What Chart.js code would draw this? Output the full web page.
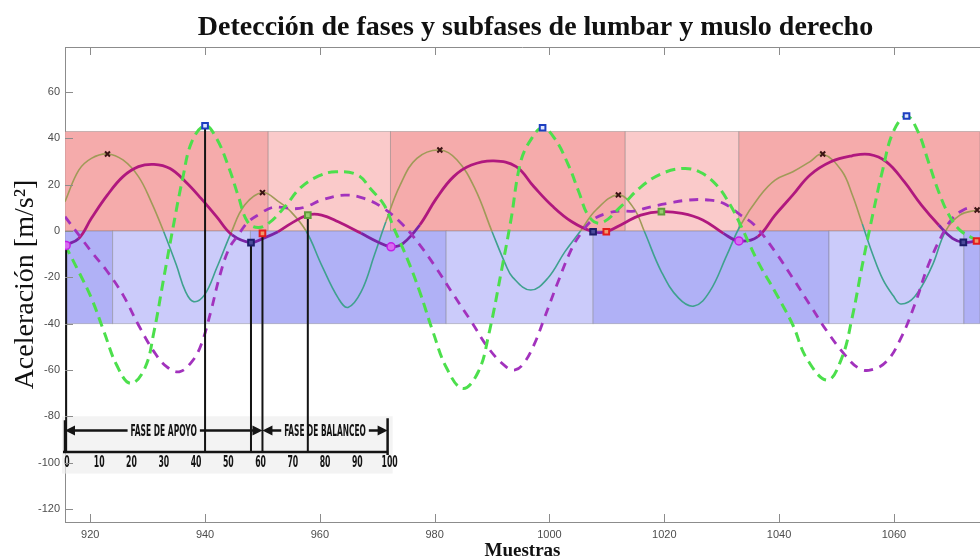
<!DOCTYPE html>
<html>
<head>
<meta charset="utf-8">
<script src="https://cdn.jsdelivr.net/npm/chart.js@4"></script>
<style>
  html, body { margin: 0; padding: 0; background: #ffffff; }
  #wrap { width: 980px; height: 560px; position: relative; }
</style>
</head>
<body>
<div id="wrap"><canvas id="chart"></canvas></div>
<script>
// ---------- series (sample index, acceleration m/s^2) ----------
const thinX = [915.6, 918.0, 920.2, 923.0, 925.7, 928.4, 930.6, 932.8, 935.0, 936.6, 938.0, 939.9, 942.0, 944.5, 946.9, 950.0, 952.8, 954.7, 957.6, 960.3, 963.2, 964.9, 967.2, 969.5, 971.5, 974.0, 976.9, 980.9, 983.9, 987.0, 990.0, 992.4, 993.6, 996.7, 999.7, 1002.7, 1005.4, 1008.1, 1012.0, 1014.7, 1016.5, 1019.5, 1022.5, 1025.2, 1027.9, 1030.9, 1033.3, 1036.6, 1039.3, 1042.4, 1045.4, 1047.6, 1050.9, 1052.7, 1054.5, 1056.3, 1058.1, 1059.9, 1061.2, 1063.6, 1066.6, 1069.0, 1071.5, 1074.5];
const thinY = [12.7, 26.3, 31.4, 33.3, 30.7, 23.5, 12.7, -0.3, -14.7, -26.2, -30.5, -27.6, -16.1, -1.0, 11.2, 16.6, 12.7, 9.0, 0.0, -14.7, -29.0, -33.0, -26.2, -10.4, 4.0, 19.9, 31.4, 35.0, 30.7, 18.4, -0.3, -14.7, -20.0, -25.5, -20.4, -8.9, 0.0, 9.1, 15.6, 9.8, 0.0, -17.6, -29.0, -32.4, -26.2, -10.4, 2.6, 15.0, 22.0, 25.6, 30.0, 33.3, 26.0, 16.0, 3.0, -10.0, -21.0, -28.0, -31.5, -28.4, -15.4, 0.0, 6.9, 9.1];

const solidX = [915.6, 918.0, 920.2, 923.0, 925.7, 928.4, 931.1, 933.9, 936.6, 939.3, 942.0, 944.7, 948.0, 950.1, 952.7, 955.0, 957.9, 960.3, 963.2, 967.2, 970.0, 972.4, 974.5, 977.4, 980.3, 983.3, 986.4, 990.3, 994.2, 997.3, 1000.5, 1003.9, 1007.6, 1009.9, 1012.9, 1015.9, 1019.5, 1023.1, 1026.7, 1030.3, 1033.0, 1036.3, 1039.3, 1042.4, 1045.4, 1049.0, 1052.7, 1055.7, 1058.7, 1061.8, 1064.8, 1067.8, 1070.2, 1072.1, 1074.4];
const solidY = [-6.2, -3.2, 5.5, 15.6, 23.5, 27.8, 28.8, 27.0, 21.3, 14.1, 6.2, -1.7, -5.0, -3.2, -0.3, 3.3, 6.9, 6.9, 4.0, -1.0, -4.6, -6.8, -5.3, 2.6, 14.1, 23.5, 28.5, 30.3, 27.8, 19.1, 10.8, 4.0, -0.3, -0.3, 3.3, 6.9, 8.4, 7.6, 4.8, -1.0, -4.3, -2.4, 6.9, 15.6, 24.2, 29.9, 32.5, 33.1, 29.9, 21.3, 11.2, 2.6, -3.2, -4.9, -4.3];

const greenDashX = [915.6, 918.0, 920.2, 922.4, 924.6, 927.0, 929.5, 931.1, 932.8, 934.4, 936.1, 937.7, 940.0, 942.0, 944.2, 945.8, 947.4, 949.2, 951.1, 953.9, 956.6, 959.8, 962.8, 966.6, 968.9, 971.2, 972.9, 975.2, 977.4, 979.7, 982.1, 984.9, 987.6, 989.4, 991.8, 993.3, 995.0, 996.9, 998.8, 1000.9, 1003.3, 1005.1, 1006.9, 1009.0, 1012.6, 1015.9, 1019.3, 1023.1, 1026.1, 1029.1, 1031.5, 1033.3, 1036.3, 1039.3, 1042.4, 1044.8, 1048.4, 1050.9, 1052.7, 1054.5, 1056.3, 1058.1, 1059.9, 1062.2, 1064.2, 1066.0, 1067.8, 1069.6, 1071.5, 1074.4];
const greenDashY = [-6.0, -17.6, -29.0, -43.5, -57.9, -65.8, -59.3, -43.5, -20.4, 1.2, 22.7, 38.6, 45.5, 40.0, 27.0, 15.0, 4.0, 1.5, 3.4, 10.5, 18.6, 23.8, 25.6, 24.2, 18.0, 11.2, 1.2, -11.8, -26.2, -43.5, -59.3, -68.0, -60.8, -44.9, -15.0, 5.0, 30.0, 40.0, 44.6, 40.0, 28.5, 17.0, 6.2, 3.5, 11.0, 19.0, 24.5, 27.0, 25.6, 19.9, 11.2, 2.5, -13.2, -26.2, -40.6, -55.0, -64.4, -55.0, -37.7, -14.7, 6.9, 27.0, 42.9, 49.7, 42.9, 30.0, 17.0, 6.9, 0.4, -4.0];

const purpleDashX = [915.6, 918.0, 920.2, 923.0, 925.7, 928.4, 931.1, 933.3, 935.5, 937.7, 939.3, 941.0, 942.6, 944.2, 945.8, 947.4, 949.6, 951.7, 953.5, 955.5, 957.6, 960.3, 964.3, 967.7, 971.1, 974.5, 977.4, 980.3, 983.3, 986.4, 989.4, 992.4, 994.0, 995.5, 997.3, 999.1, 1001.5, 1003.9, 1005.7, 1007.5, 1009.9, 1012.3, 1014.7, 1017.7, 1020.7, 1024.3, 1027.6, 1030.3, 1033.3, 1035.7, 1039.3, 1042.4, 1045.4, 1048.4, 1051.5, 1053.9, 1056.0, 1058.7, 1061.2, 1063.6, 1066.0, 1068.4, 1070.2, 1072.1, 1073.9];
const purpleDashY = [6.2, -1.7, -8.9, -17.6, -27.6, -40.6, -52.1, -58.6, -60.8, -56.4, -49.2, -34.8, -19.0, -7.5, -1.7, 3.7, 7.5, 10.2, 10.2, 9.6, 10.5, 13.4, 15.5, 14.1, 9.8, 2.6, -6.0, -16.1, -27.6, -39.2, -50.7, -58.6, -60.0, -57.2, -49.2, -37.7, -21.9, -7.5, -0.3, 4.8, 7.6, 8.6, 8.6, 10.5, 12.0, 13.4, 13.4, 12.0, 6.9, 2.6, -8.9, -20.4, -32.0, -43.5, -53.6, -59.3, -60.0, -56.4, -46.4, -32.0, -14.7, -1.7, 5.5, 9.1, 10.5];

// ---------- detected events ----------
const peakX = [923.0, 950.0, 980.9, 1012.0, 1047.6, 1074.5];
const peakY = [33.3, 16.6, 35.0, 15.6, 33.3, 9.1];
const maxDashX = [940.0, 998.8, 1062.2];
const maxDashY = [45.5, 44.6, 49.7];
const minSolidX = [948.0, 1007.6, 1072.1];
const minSolidY = [-5.0, -0.3, -4.9];
const toeOffX = [950.0, 1009.9, 1074.4];
const toeOffY = [-1.0, -0.3, -4.3];
const midSwingX = [957.9, 1019.5];
const midSwingY = [6.9, 8.4];
const contactX = [915.8, 972.4, 1033.0];
const contactY = [-6.2, -6.8, -4.3];

// ---------- phase bands ----------
const phaseEdges = [915.6, 951.0, 972.3, 1013.2, 1033.0, 1075.0];
const subphaseEdges = [915.6, 923.9, 947.9, 982.0, 1007.6, 1048.7, 1072.2, 1075.0];
const phaseTop = 43;
const subphaseBottom = -40;

// ---------- gait cycle scale ----------
const cycleStart = 915.6, cycleToeOff = 950.0, cycleEnd = 971.8;
const cyclePctLabels = ['0', '10', '20', '30', '40', '50', '60', '70', '80', '90', '100'];
const phaseNames = ['FASE DE APOYO', 'FASE DE BALANCEO'];
const stemBase = -95.5;

// ---------- axes ----------
const xTickValues = [920, 940, 960, 980, 1000, 1020, 1040, 1060];
const yTickValues = [-120, -100, -80, -60, -40, -20, 0, 20, 40, 60];
const xRange = [915.6, 1075.0];
const yRange = [-125.7, 79.5];

const xy = (xs, ys) => xs.map((v, i) => ({ x: v, y: ys[i] }));

// vertical stems from the first cycle's events down to the cycle baseline
const stemEvents = [[contactX[0], contactY[0]], [maxDashX[0], maxDashY[0]], [minSolidX[0], minSolidY[0]], [toeOffX[0], toeOffY[0]], [midSwingX[0], midSwingY[0]]];
const stemData = [];
stemEvents.forEach(([sx, sy]) => { stemData.push({ x: sx, y: sy }, { x: sx, y: stemBase }, { x: sx, y: null }); });

const bySign = (pos, neg) => c => ((c.p0.parsed.y + c.p1.parsed.y) / 2 >= 0 ? pos : neg);

// background bands, gait cycle strip, box frame and inward ticks
const underlayPlugin = {
  id: 'underlay',
  afterLayout(chart) {
    // the axes box runs past the right edge of the canvas; centre the title over it
    if (chart.titleBlock) chart.titleBlock.right += 26;
  },
  beforeDatasetsDraw(chart) {
    const { ctx, chartArea: a, scales: { x, y } } = chart;
    ctx.save();
    ctx.beginPath();
    ctx.rect(a.left, a.top, a.width, a.height);
    ctx.clip();
    const row = (edges, fills, v0, v1) => {
      const yA = y.getPixelForValue(v1), yB = y.getPixelForValue(v0);
      for (let i = 0; i < edges.length - 1; i++) {
        const xA = x.getPixelForValue(edges[i]), xB = x.getPixelForValue(edges[i + 1]);
        ctx.fillStyle = fills[i % 2];
        ctx.fillRect(xA, yA, xB - xA, yB - yA);
        ctx.strokeStyle = 'rgba(110,110,110,0.35)';
        ctx.lineWidth = 1;
        ctx.strokeRect(xA, yA, xB - xA, yB - yA);
      }
    };
    row(phaseEdges, ['#f5abab', '#facaca'], 0, phaseTop);
    row(subphaseEdges, ['#b0b1f6', '#cbcbfa'], subphaseBottom, 0);
    ctx.restore();

    // gait cycle strip
    const x0 = x.getPixelForValue(cycleStart), xt = x.getPixelForValue(cycleToeOff), x1 = x.getPixelForValue(cycleEnd);
    const yTop = y.getPixelForValue(-80), yArrow = y.getPixelForValue(-86.2), yBase = y.getPixelForValue(stemBase);
    const yNum = y.getPixelForValue(-100.2), yBot = y.getPixelForValue(-104.8);
    ctx.save();
    ctx.fillStyle = 'rgba(236,236,236,0.65)';
    ctx.fillRect(x0 - 3, yTop, x1 - x0 + 8, yBot - yTop);
    ctx.strokeStyle = '#141414';
    ctx.fillStyle = '#141414';
    ctx.lineWidth = 2.5;
    ctx.beginPath();
    ctx.moveTo(x0 - 2, yBase); ctx.lineTo(x1 + 1, yBase);
    ctx.moveTo(x0, yTop + 4); ctx.lineTo(x0, yBase);
    ctx.moveTo(x1, yTop + 2); ctx.lineTo(x1, yBase + 3);
    ctx.stroke();

    const head = (px, dir) => {
      ctx.beginPath();
      ctx.moveTo(px, yArrow);
      ctx.lineTo(px - dir * 10, yArrow - 5);
      ctx.lineTo(px - dir * 10, yArrow + 5);
      ctx.closePath();
      ctx.fill();
    };
    const arrow = (a0, a1, label) => {
      ctx.font = 'bold 16px "DejaVu Sans Condensed", "DejaVu Sans", sans-serif';
      ctx.textAlign = 'center';
      ctx.textBaseline = 'middle';
      const w = label.length * 5.1;
      const mid = (a0 + a1) / 2;
      ctx.fillText(label, mid, yArrow + 1, w);
      ctx.lineWidth = 2.5;
      ctx.beginPath();
      ctx.moveTo(a0 + 4, yArrow); ctx.lineTo(mid - w / 2 - 3, yArrow);
      ctx.moveTo(mid + w / 2 + 3, yArrow); ctx.lineTo(a1 - 4, yArrow);
      ctx.stroke();
      head(a0, -1);
      head(a1, 1);
    };
    arrow(x0, xt, phaseNames[0]);
    arrow(xt, x1, phaseNames[1]);

    ctx.font = 'bold 16px "DejaVu Sans Condensed", "DejaVu Sans", sans-serif';
    ctx.textAlign = 'center';
    ctx.textBaseline = 'middle';
    cyclePctLabels.forEach((lab, i) => {
      const px = x0 + (x1 - x0) * (i / (cyclePctLabels.length - 1));
      ctx.fillText(lab, px + 2, yNum, lab.length * 5.4);
    });
    ctx.restore();
  },
  afterDatasetsDraw(chart) {
    const { ctx, chartArea: a, scales: { x, y } } = chart;
    ctx.save();
    ctx.strokeStyle = '#8c8c8c';
    ctx.lineWidth = 1;
    ctx.beginPath();
    ctx.moveTo(a.left, a.top + 0.5); ctx.lineTo(a.right, a.top + 0.5);
    x.ticks.forEach(t => {
      const px = Math.round(x.getPixelForValue(t.value)) + 0.5;
      ctx.moveTo(px, a.bottom); ctx.lineTo(px, a.bottom - 8);
      ctx.moveTo(px, a.top); ctx.lineTo(px, a.top + 8);
    });
    y.ticks.forEach(t => {
      const py = Math.round(y.getPixelForValue(t.value)) + 0.5;
      ctx.moveTo(a.left, py); ctx.lineTo(a.left + 8, py);
    });
    ctx.stroke();
    ctx.restore();
  }
};

const markerSet = (label, xs, ys, style, radius, border, fill, bw) => ({
  label, data: xy(xs, ys), showLine: false, order: 1,
  pointStyle: style, pointRadius: radius, pointBorderColor: border,
  pointBackgroundColor: fill, pointBorderWidth: bw, borderColor: border, backgroundColor: fill
});

new Chart(document.getElementById('chart'), {
  type: 'line',
  data: {
    datasets: [
      { label: 'Lumbar (fina)', data: xy(thinX, thinY), borderColor: '#a09a58', borderWidth: 1.6,
        segment: { borderColor: bySign('#a09a58', '#3fa18f') }, pointRadius: 0, tension: 0.4, order: 6 },
      { label: 'Lumbar (gruesa)', data: xy(solidX, solidY), borderColor: '#b0187e', borderWidth: 2.8,
        segment: { borderColor: bySign('#b0187e', '#7a24a6') }, pointRadius: 0, tension: 0.4, order: 5 },
      { label: 'Muslo (morado)', data: xy(purpleDashX, purpleDashY), borderColor: '#a232bd', borderWidth: 2.8,
        borderDash: [9, 7], pointRadius: 0, tension: 0.4, order: 4 },
      { label: 'Muslo (verde)', data: xy(greenDashX, greenDashY), borderColor: '#4cdf4c', borderWidth: 3,
        borderDash: [10, 6], pointRadius: 0, tension: 0.4, order: 3 },
      { label: 'Eventos', data: stemData, borderColor: '#141414', borderWidth: 2, pointRadius: 0,
        tension: 0, spanGaps: false, order: 2 },
      markerSet('Picos', peakX, peakY, 'crossRot', 3.5, '#3b1414', '#3b1414', 2),
      markerSet('Máximos', maxDashX, maxDashY, 'rect', 4, '#1c3fc0', '#dfe6ff', 2),
      markerSet('Mínimos', minSolidX, minSolidY, 'rect', 4, '#1d1d6b', '#4b4b9a', 2),
      markerSet('Despegue', toeOffX, toeOffY, 'rect', 4, '#e31c1c', '#f19a6a', 2),
      markerSet('Balanceo medio', midSwingX, midSwingY, 'rect', 4, '#5f9f3a', '#9acc70', 2),
      markerSet('Contacto', contactX, contactY, 'circle', 4, '#c21fe6', '#d76cf0', 1.5)
    ]
  },
  options: {
    responsive: true,
    maintainAspectRatio: false,
    animation: false,
    layout: { padding: 0, autoPadding: false },
    plugins: {
      legend: { display: false },
      tooltip: { enabled: false },
      title: {
        display: true, fullSize: false,
        text: 'Detección de fases y subfases de lumbar y muslo derecho',
        color: '#111111',
        font: { family: '"Liberation Serif", "DejaVu Serif", serif', size: 28, weight: 'bold', lineHeight: 1.2 },
        padding: { top: 11, bottom: 2.4 }
      }
    },
    scales: {
      x: {
        type: 'linear', min: xRange[0], max: xRange[1],
        afterBuildTicks: s => { s.ticks = xTickValues.map(v => ({ value: v })); },
        afterFit: s => { s.height = 38; },
        grid: { display: false, drawTicks: false },
        border: { display: true, color: '#8c8c8c', width: 1 },
        ticks: { color: '#4d4d4d', padding: 6, callback: v => String(v),
          font: { family: '"Liberation Sans", Arial, sans-serif', size: 11 } },
        title: { display: true, text: 'Muestras', color: '#111111', padding: { top: 0, bottom: -2 },
          font: { family: '"Liberation Serif", "DejaVu Serif", serif', size: 19, weight: 'bold', lineHeight: 1.2 } }
      },
      y: {
        type: 'linear', min: yRange[0], max: yRange[1],
        afterBuildTicks: s => { s.ticks = yTickValues.map(v => ({ value: v })); },
        afterFit: s => { s.width = 65; },
        grid: { display: false, drawTicks: false },
        border: { display: true, color: '#8c8c8c', width: 1 },
        ticks: { color: '#4d4d4d', padding: 5, callback: v => String(v),
          font: { family: '"Liberation Sans", Arial, sans-serif', size: 11 } },
        title: { display: true, text: 'Aceleración [m/s²]', color: '#111111', padding: { top: 9, bottom: 0 },
          font: { family: '"Liberation Serif", "DejaVu Serif", serif', size: 28, lineHeight: 1.2 } }
      }
    }
  },
  plugins: [underlayPlugin]
});
</script>
</body>
</html>
